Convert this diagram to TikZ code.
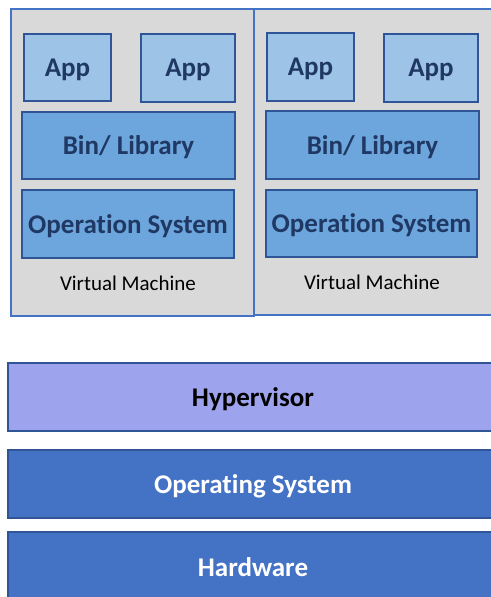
\documentclass[tikz,border=0pt]{standalone}
\usepackage{fontspec}
\setmainfont[Ligatures=NoCommon]{Carlito}
\definecolor{vmgray}{HTML}{D9D9D9}
\definecolor{vmborder}{HTML}{4472C4}
\definecolor{darkb}{HTML}{2F5597}
\definecolor{appfill}{HTML}{9DC3E6}
\definecolor{midfill}{HTML}{6DA6DC}
\definecolor{navy}{HTML}{1F3864}
\definecolor{hypfill}{HTML}{9DA3ED}
\definecolor{deepfill}{HTML}{4472C4}
\tikzset{
  bigtext/.style={font=\fontsize{27}{30}\selectfont\bfseries, text depth=0pt},
  vmbox/.style={draw=vmborder, fill=vmgray, line width=1.5pt, inner sep=0pt},
  appbox/.style={draw=darkb, fill=appfill, line width=1.2pt, inner sep=0pt, text=navy, bigtext},
  midbox/.style={draw=darkb, fill=midfill, line width=1.2pt, inner sep=0pt, text=navy, bigtext},
  hypbox/.style={draw=darkb, fill=hypfill, line width=1.2pt, inner sep=0pt, text=black, bigtext},
  deepbox/.style={draw=darkb, fill=deepfill, line width=1.2pt, inner sep=0pt, text=white, bigtext},
  vmlabel/.style={font=\fontsize{21}{24}\selectfont, text=black}
}
\begin{document}
\begin{tikzpicture}[x=1pt,y=-1pt]
\useasboundingbox (0,0) rectangle (490,597);
% virtual machines
\node[vmbox, minimum width=243pt, minimum height=307pt] (vm1) at (132.5,162.5) {};
\node[vmbox, minimum width=240pt, minimum height=306pt] (vm2) at (374,162) {};
% left VM content
\node[appbox, minimum width=87pt, minimum height=67pt] (app1) at (67.5,67.5) {App};
\node[appbox, minimum width=94pt, minimum height=68pt] (app2) at (188,68) {App};
\node[midbox, minimum width=213pt, minimum height=67pt] (bin1) at (128.5,145.5) {Bin/ Library};
\node[midbox, minimum width=212pt, minimum height=68pt] (os1) at (128,224) {Operation System};
\node[vmlabel] (lab1) at (128,283) {Virtual Machine};
% right VM content
\node[appbox, minimum width=87pt, minimum height=68pt] (app3) at (310.5,67) {App};
\node[appbox, minimum width=94pt, minimum height=68pt] (app4) at (431,68) {App};
\node[midbox, minimum width=213pt, minimum height=68pt] (bin2) at (372.5,145) {Bin/ Library};
\node[midbox, minimum width=211pt, minimum height=67pt] (os2) at (371.5,223.5) {Operation System};
\node[vmlabel] (lab2) at (372,282) {Virtual Machine};
% bottom layers
\node[hypbox, minimum width=490pt, minimum height=68pt] (hyp) at (253,397) {Hypervisor};
\node[deepbox, minimum width=490pt, minimum height=68pt] (hostos) at (253,484) {Operating System};
\node[deepbox, minimum width=490pt, minimum height=70pt] (hw) at (253,567) {Hardware};
\end{tikzpicture}
\end{document}
